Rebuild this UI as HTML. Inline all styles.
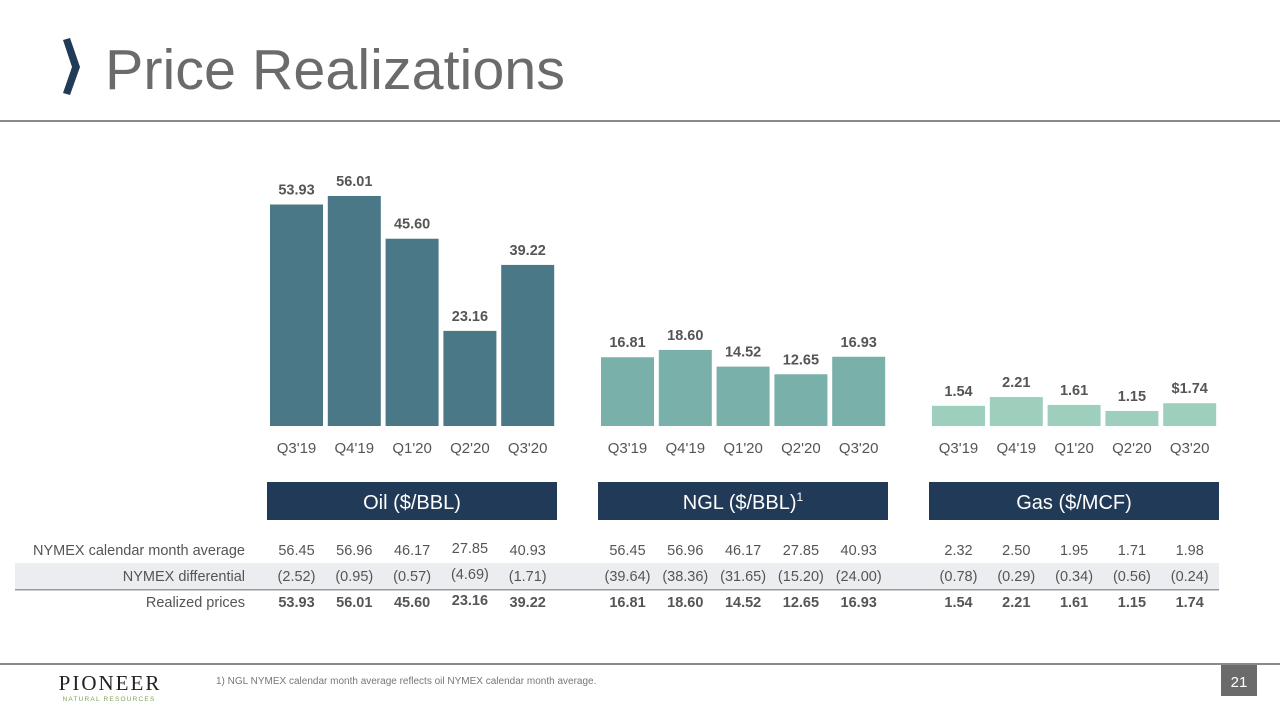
<!DOCTYPE html>
<html><head><meta charset="utf-8"><style>
body{margin:0;background:#fff;}
svg{display:block;font-family:"Liberation Sans","DejaVu Sans",sans-serif;}
</style></head><body>
<svg id="s" width="1280" height="720" viewBox="0 0 1280 720">
<path d="M63,40 L70,38 L80,67 L70,95 L63,93 L72,67 Z" fill="#213a58"/>
<text x="105" y="89" font-size="57" textLength="460" lengthAdjust="spacingAndGlyphs" fill="#6b6b6b">Price Realizations</text>
<rect x="0" y="120" width="1280" height="2" fill="#8a8a8a"/>
<rect x="15" y="563" width="1204" height="26" fill="#ecedf0"/>
<rect x="15" y="589" width="1204" height="1.5" fill="#9a9a9a"/>
<text x="245" y="555" font-size="14.5" fill="#555" text-anchor="end">NYMEX calendar month average</text>
<text x="245" y="581" font-size="14.5" fill="#555" text-anchor="end">NYMEX differential</text>
<text x="245" y="607" font-size="14.5" fill="#555" text-anchor="end">Realized prices</text>
<rect x="0" y="663" width="1280" height="2" fill="#8a8a8a"/>
<text x="110" y="690" font-size="21" font-family="Liberation Serif,serif" letter-spacing="2" fill="#222" text-anchor="middle">PIONEER</text>
<text x="109" y="701" font-size="6.5" letter-spacing="1.2" fill="#7ea35a" text-anchor="middle">NATURAL RESOURCES</text>
<text x="216" y="684" font-size="10" fill="#777">1) NGL NYMEX calendar month average reflects oil NYMEX calendar month average.</text>
<rect x="1221" y="665" width="36" height="31" fill="#6b6b6b"/>
<text x="1239" y="687" font-size="15" fill="#fff" text-anchor="middle">21</text>
<g id="charts"></g>
</svg>
<script>
const categories = ["Q3'19","Q4'19","Q1'20","Q2'20","Q3'20"];
const oilRealized = [53.93,56.01,45.60,23.16,39.22];
const ngRealized = [16.81,18.60,14.52,12.65,16.93];
const gasRealized = [1.54,2.21,1.61,1.15,1.74];
const oilNymex = ["56.45","56.96","46.17","27.85","40.93"];
const oilDiff = ["(2.52)","(0.95)","(0.57)","(4.69)","(1.71)"];
const oilReal = ["53.93","56.01","45.60","23.16","39.22"];
const nglNymex = ["56.45","56.96","46.17","27.85","40.93"];
const nglDiff = ["(39.64)","(38.36)","(31.65)","(15.20)","(24.00)"];
const nglReal = ["16.81","18.60","14.52","12.65","16.93"];
const gasNymex = ["2.32","2.50","1.95","1.71","1.98"];
const gasDiff = ["(0.78)","(0.29)","(0.34)","(0.56)","(0.24)"];
const gasReal = ["1.54","2.21","1.61","1.15","1.74"];
const barLabelsGas = ["1.54","2.21","1.61","1.15","$1.74"];

const NS="http://www.w3.org/2000/svg";
const g=document.getElementById('charts');
function mk(tag,attrs,txt){const e=document.createElementNS(NS,tag);for(const k in attrs)e.setAttribute(k,attrs[k]);if(txt!==undefined)e.textContent=txt;g.appendChild(e);return e;}
const baseY=426;
const panels=[
 {key:'oil',x0:270,vals:oilRealized,scale:4.107,color:'#4a7886',title:'Oil ($/BBL)',sup:'',bx:267,labels:oilRealized.map(v=>v.toFixed(2)),rows:[oilNymex,oilDiff,oilReal]},
 {key:'ngl',x0:601,vals:ngRealized,scale:4.09,color:'#7ab0aa',title:'NGL ($/BBL)',sup:'1',bx:598,labels:ngRealized.map(v=>v.toFixed(2)),rows:[nglNymex,nglDiff,nglReal]},
 {key:'gas',x0:932,vals:gasRealized,scale:13.1,color:'#9ecfbd',title:'Gas ($/MCF)',sup:'',bx:929,labels:barLabelsGas,rows:[gasNymex,gasDiff,gasReal]}
];
const step=57.8,bw=53;
panels.forEach(p=>{
 p.vals.forEach((v,i)=>{
  const x=p.x0+i*step, h=v*p.scale, cx=x+bw/2;
  const r=mk('rect',{x:x,y:baseY-h,width:bw,height:h,fill:p.color});
  
  
  const t=mk('text',{x:cx,y:baseY-h-10,'font-size':14.5,'font-weight':'bold',fill:'#555','text-anchor':'middle'},p.labels[i]);
  
  
  const c=mk('text',{x:cx,y:453,'font-size':15,fill:'#555','text-anchor':'middle'},categories[i]);
  
  
  const ys=[555,581,607];
  p.rows.forEach((row,ri)=>{
   const tt=mk('text',{x:cx,y:ys[ri]-(i==3&&p.key=='oil'?2:0),'font-size':14.5,'font-weight':ri==2?'bold':'normal',fill:'#555','text-anchor':'middle'},row[i]);
   
   
  });
 });
 const b=mk('rect',{x:p.bx,y:482,width:290,height:38,fill:'#213a58'});
 
 
 const ht=mk('text',{x:p.bx+145,y:509,'font-size':20,fill:'#fff','text-anchor':'middle'},p.title);
 
 
 if(p.sup){const ts=document.createElementNS(NS,'tspan');ts.setAttribute('font-size','12');ts.setAttribute('dy','-8');ts.textContent=p.sup;ht.appendChild(ts);}
});
</script>
</body></html>
